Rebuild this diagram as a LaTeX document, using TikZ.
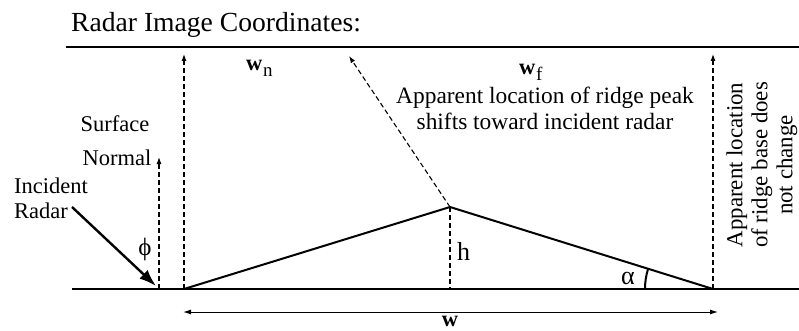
\documentclass[tikz,border=0pt]{standalone}
\usepackage{fontspec}
\setmainfont{Liberation Serif}
\usetikzlibrary{arrows.meta}
\begin{document}
\begin{tikzpicture}[x=1pt,y=-1pt,
  thickline/.style={line width=2pt},
  dashline/.style={line width=1.1pt,dash pattern=on 5pt off 3pt},
  dasharrow/.style={dashline,-{Latex[length=7pt,width=5pt]}},
  lbl/.style={font=\fontsize{22.5}{25}\selectfont,inner sep=0pt},
  midlbl/.style={font=\fontsize{23.4}{26}\selectfont,inner sep=0pt},
  biglbl/.style={font=\fontsize{26}{28}\selectfont,inner sep=0pt},
  sublbl/.style={font=\fontsize{19}{21}\selectfont,inner sep=0pt},
]
\useasboundingbox (0,0) rectangle (799,331);
% coordinates
\coordinate (tl) at (66,47);  \coordinate (tr) at (799,47);
\coordinate (bl) at (72,289); \coordinate (br) at (799,289);
\coordinate (A) at (184,289);
\coordinate (P) at (450,207);
\coordinate (B) at (713,289);
\coordinate (Pb) at (450,289);
\coordinate (At) at (184,54);
\coordinate (Bt) at (713,54);
\coordinate (N0) at (159,289); \coordinate (N1) at (159,157);
\coordinate (Pt) at (349,56);
\coordinate (R0) at (72,207);  \coordinate (R1) at (156,286);
\coordinate (W0) at (183,312); \coordinate (W1) at (718,312);
% lines
\draw[thickline] (tl) -- (tr);
\draw[thickline] (bl) -- (br);
\draw[thickline, line join=miter] (A) -- (P) -- (B);
\draw[dasharrow] (A) -- (At);
\draw[dasharrow] (B) -- (Bt);
\draw[dasharrow] (N0) -- (N1);
\draw[dasharrow] (P) -- (Pt);
\draw[dashline] (P) -- (Pb);
\draw[line width=2.4pt, -{Latex[length=17pt,width=12pt]}] (R0) -- (R1);
\draw[line width=1pt, {Latex[length=8pt,width=5pt]}-{Latex[length=8pt,width=5pt]}] (W0) -- (W1);
\draw[thickline] (645,289) arc[start angle=180,end angle=197,radius=68];
% texts
\node[font=\fontsize{27.6}{30}\selectfont, inner sep=0pt, anchor=base west] (title) at (71,32) {Radar Image Coordinates:};
\node[lbl, anchor=base] (surf) at (115,132) {Surface};
\node[lbl, anchor=base] (norm) at (117,165) {Normal};
\node[lbl, anchor=base west] (inc) at (14,193) {Incident};
\node[lbl, anchor=base west] (rad) at (14,218) {Radar};
\node[font=\fontsize{25}{27}\selectfont, inner sep=0pt] (phi) at (145,249) {ϕ};
\node[biglbl, anchor=base west] (h) at (457,260) {h};
\node[biglbl, anchor=base west] (alpha) at (621,284) {α};
\node[lbl, anchor=base west] (wn) at (246,71) {\textbf{w}};
\node[sublbl, anchor=base west] (wnsub) at (263,77) {n};
\node[lbl, anchor=base west] (wf) at (519,75) {\textbf{w}};
\node[sublbl, anchor=base west] (wfsub) at (536,81) {f};
\node[midlbl, anchor=base] (app1) at (545,104) {Apparent location of ridge peak};
\node[midlbl, anchor=base] (app2) at (545,130) {shifts toward incident radar};
\node[rotate=90, align=center, inner sep=0pt, font=\fontsize{22.9}{25}\selectfont] (base) at (762,165) {Apparent location\\of ridge base does\\not change};
\node[lbl, anchor=base] (w) at (450,326) {\textbf{w}};
\end{tikzpicture}
\end{document}
